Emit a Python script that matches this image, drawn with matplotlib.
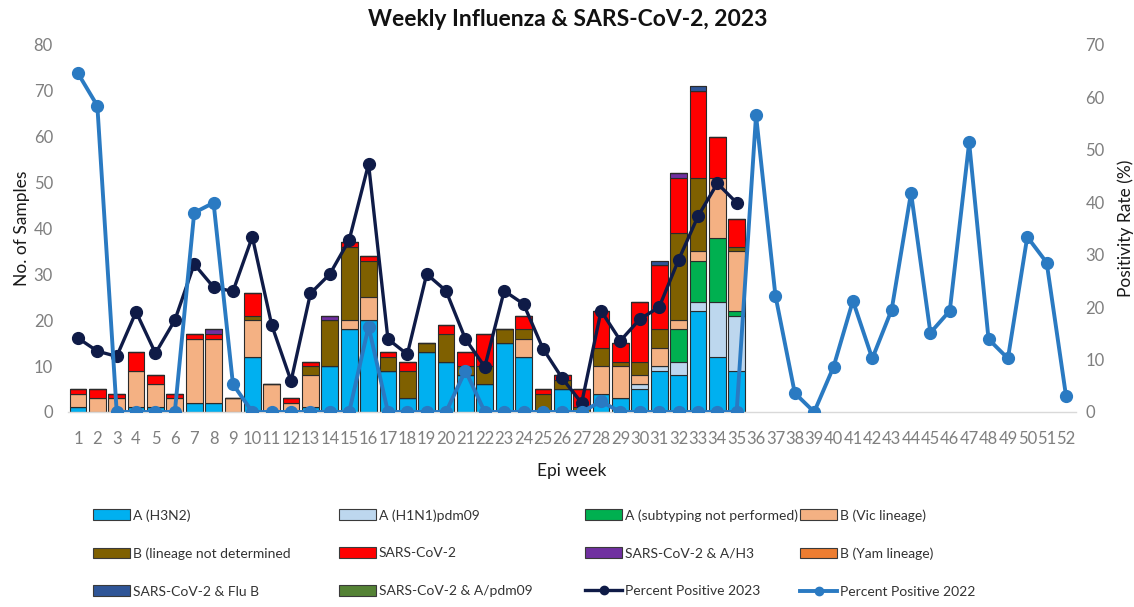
import numpy as np
import matplotlib
matplotlib.use("Agg")
import matplotlib.pyplot as plt
from matplotlib.patches import Patch
from matplotlib.lines import Line2D

plt.rcParams['font.family'] = ['Lato', 'DejaVu Sans']

# ---------------- data ----------------
weeks_all = list(range(1, 53))
weeks_bar = list(range(1, 36))

h3n2 = [1, 0, 0, 1, 1, 0, 2, 2, 0, 12, 0, 0, 1, 10, 18, 20, 9, 3, 13, 11, 8, 6, 15, 12, 0, 5, 0, 4, 3, 5, 9, 8, 22, 12, 9]
h1n1 = [0] * 29 + [1, 1, 3, 2, 12, 12]
a_nst = [0] * 31 + [7, 9, 14, 1]
b_vic = [3, 3, 3, 8, 5, 3, 14, 14, 3, 8, 6, 2, 7, 0, 2, 5, 0, 0, 0, 0, 0, 0, 0, 4, 0, 0, 0, 6, 7, 2, 4, 2, 2, 13, 13]
b_nd = [0, 0, 0, 0, 0, 0, 0, 0, 0, 1, 0, 0, 2, 10, 16, 8, 3, 6, 2, 6, 2, 4, 3, 2, 4, 2, 1, 4, 1, 3, 4, 19, 16, 0, 1]
sars = [1, 2, 1, 4, 2, 1, 1, 1, 0, 5, 0, 1, 1, 0, 1, 1, 1, 2, 0, 2, 3, 7, 0, 3, 1, 1, 4, 8, 4, 13, 14, 12, 19, 9, 6]
sars_h3 = [0, 0, 0, 0, 0, 0, 0, 1, 0, 0, 0, 0, 0, 1, 0, 0, 0, 0, 0, 0, 0, 0, 0, 0, 0, 0, 0, 0, 0, 0, 0, 1, 0, 0, 0]
b_yam = [0] * 35
sars_flub = [0] * 30 + [1, 0, 1, 0, 0]
sars_pdm = [0] * 35

pp_2023 = [14.1, 11.6, 10.6, 19.1, 11.2, 17.5, 28.2, 23.8, 23.0, 33.4, 16.6, 5.9, 22.6, 26.3, 32.8, 47.3,
           13.9, 11.0, 26.3, 23.1, 13.9, 8.6, 23.1, 20.6, 12.1, 6.4, 1.7, 19.3, 13.6, 17.7, 20.0, 29.0,
           37.3, 43.6, 39.9]
pp_2022 = [64.6, 58.4, 0, 0, 0, 0, 38.0, 39.9, 5.3, 0, 0, 0, 0, 0, 0, 16.3, 0, 0, 0, 0, 7.9, 0, 0, 0, 0,
           0, 0, 2.0, 0, 0, 0, 0, 0, 0, 0, 56.6, 22.2, 3.6, 0, 8.6, 21.2, 10.2, 19.5, 41.8, 15.1, 19.3,
           51.4, 13.9, 10.2, 33.4, 28.5, 3.05]

series = [
    ("A (H3N2)", h3n2, "#00B0F0"),
    ("A (H1N1)pdm09", h1n1, "#BDD7EE"),
    ("A (subtyping not performed)", a_nst, "#00B050"),
    ("B (Vic lineage)", b_vic, "#F4B183"),
    ("B (lineage not determined", b_nd, "#7F6000"),
    ("SARS-CoV-2", sars, "#FF0000"),
    ("SARS-CoV-2 & A/H3", sars_h3, "#7030A0"),
    ("B (Yam lineage)", b_yam, "#ED7D31"),
    ("SARS-CoV-2 & Flu B", sars_flub, "#2F5597"),
    ("SARS-CoV-2 & A/pdm09", sars_pdm, "#548235"),
]
c2023 = "#0F1B47"
c2022 = "#2A7AC2"

leg_size = 10.0

# ---------------- figure ----------------
fig = plt.figure(figsize=(11.34, 6.07), dpi=100)
ax = fig.add_axes([0.0602, 0.3213, 0.8884, 0.6046])

bottom = np.zeros(len(weeks_bar))
handles = {}
for name, vals, col in series:
    v = np.array(vals, dtype=float)
    ax.bar(weeks_bar, v, bottom=bottom, width=0.86, color=col, edgecolor="#2b2b2b",
           linewidth=0.8, zorder=2)
    handles[name] = Patch(facecolor=col, edgecolor="#3a3a3a", linewidth=0.8)
    bottom += v

ax.set_xlim(0.5, 52.5)
ax.set_ylim(0, 80)
ax.set_yticks(range(0, 81, 10))
ax.set_xticks(weeks_all)
ax.set_xticklabels([str(w) for w in weeks_all])
ax.tick_params(axis='both', length=0, labelsize=12, labelcolor="#7F7F7F")
ax.tick_params(axis='x', pad=14)
ax.tick_params(axis='y', pad=11)
for s in ["top", "right", "left"]:
    ax.spines[s].set_visible(False)
ax.spines["bottom"].set_color("#D9D9D9")
ax.spines["bottom"].set_linewidth(1.0)
ax.set_ylabel("No. of Samples", fontsize=12.5, color="#1a1a1a", labelpad=3)
ax.set_xlabel("Epi week", fontsize=12.5, color="#1a1a1a", labelpad=11)

ax2 = ax.twinx()
ax2.set_ylim(0, 70)
ax2.set_yticks(range(0, 71, 10))
ax2.tick_params(axis='y', length=0, labelsize=12, labelcolor="#7F7F7F", pad=7)
for s in ["top", "right", "left", "bottom"]:
    ax2.spines[s].set_visible(False)
ax2.plot(weeks_bar, pp_2023, color=c2023, lw=2.4, marker='o', markersize=8.5, zorder=3)
ax2.plot(weeks_all, pp_2022, color=c2022, lw=2.8, marker='o', markersize=8.5, zorder=4)
ax2.set_ylabel("Positivity Rate (%)", fontsize=12.5, color="#1a1a1a", labelpad=9)

fig.text(0.501, 0.968, "Weekly Influenza & SARS-CoV-2, 2023", ha="center", va="center",
         fontsize=16.5, fontweight="bold", color="#111111")

h2023 = Line2D([], [], color=c2023, lw=2.4, marker='o', markersize=6)
h2022 = Line2D([], [], color=c2022, lw=2.8, marker='o', markersize=6)
handles["Percent Positive 2023"] = h2023
handles["Percent Positive 2022"] = h2022

cols = [
    ["A (H3N2)", "B (lineage not determined", "SARS-CoV-2 & Flu B"],
    ["A (H1N1)pdm09", "SARS-CoV-2", "SARS-CoV-2 & A/pdm09"],
    ["A (subtyping not performed)", "SARS-CoV-2 & A/H3", "Percent Positive 2023"],
    ["B (Vic lineage)", "B (Yam lineage)", "Percent Positive 2022"],
]
col_x = [93, 339, 585, 800]
hl_px = 37.0
fs_px = leg_size * 100 / 72
for cx, names in zip(col_x, cols):
    leg = fig.legend([handles[n] for n in names], names, loc="upper left",
                     bbox_to_anchor=(cx / 1134, 1 - 509 / 607), frameon=False,
                     prop={'size': leg_size},
                     handlelength=hl_px / fs_px, handleheight=0.8,
                     handletextpad=3.0 / fs_px,
                     labelspacing=(37.5 - 0.85 * fs_px) / fs_px, borderpad=0, borderaxespad=0)
    for t in leg.get_texts():
        t.set_color("#333333")

fig.savefig("out.png", dpi=100)
